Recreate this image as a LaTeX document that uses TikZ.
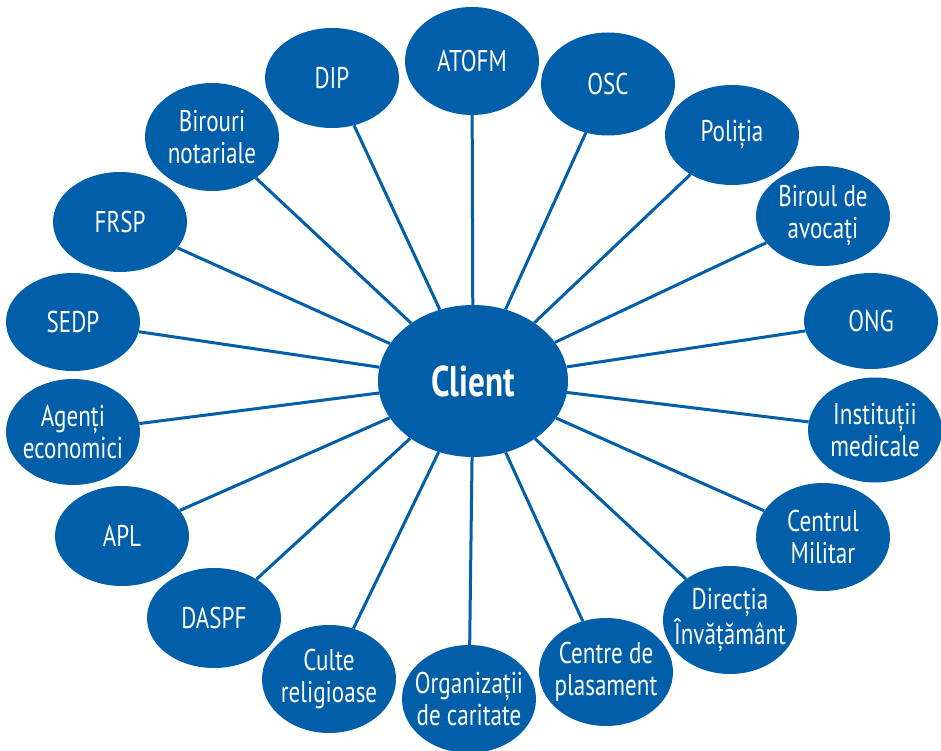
\documentclass[tikz,border=0pt]{standalone}
\usepackage{fontspec}
\setmainfont{PT Sans}[FakeStretch=0.77]
\usetikzlibrary{shapes.geometric}
\definecolor{cl-blue}{RGB}{1,94,168}
\tikzset{
	bubble/.style={ellipse, fill=cl-blue, draw=none, inner sep=0pt, minimum width=134pt},
	bubbletext/.style={text=white, align=center, inner sep=0pt, font=\fontsize{30}{32}\selectfont},
	link/.style={draw=cl-blue, line width=3pt}
}

\begin{document}
\begin{tikzpicture}[x=1pt,y=-1pt]
	\useasboundingbox (0,0) rectangle (941,751);

	%centre
	\node[bubble, minimum width=190pt, minimum height=152pt, text=white,
		font=\fontsize{43}{46}\selectfont\bfseries] (client) at (473,381) {Client};

	%partners round the client, clockwise from the top
	\foreach \name/\x/\y/\h/\txt in {
		atofm/472/61/108/{ATOFM},
		osc/608/84/103/{OSC},
		politia/732/135/100/{Poliția},
		avocati/823/216/100/{Biroul de\\avocați},
		ong/871/321/96/{ONG},
		medicale/875/430/105/{Instituții\\medicale},
		militar/823/537/108/{Centrul\\Militar},
		invatamant/730/620/108/{Direcția\\Învățământ},
		plasament/606/672/108/{Centre de\\plasament},
		caritate/469/699/108/{Organizații\\de caritate},
		culte/329/679/108/{Culte\\religioase},
		daspf/214/618/100/{DASPF},
		apl/122/536/100/{APL},
		agenti/73/432/106/{Agenți\\economici},
		sedp/73/322/98/{SEDP},
		frsp/120/222/100/{FRSP},
		notariale/212/137/108/{Birouri\\notariale},
		dip/332/78/100/{DIP}}{
		\node[bubble, minimum height=\h pt] (\name) at (\x,\y) {};
		\node[bubbletext] (\name-t) at (\name) {\txt};
		\draw[link] (client) -- (\name);
	}
\end{tikzpicture}
\end{document}
